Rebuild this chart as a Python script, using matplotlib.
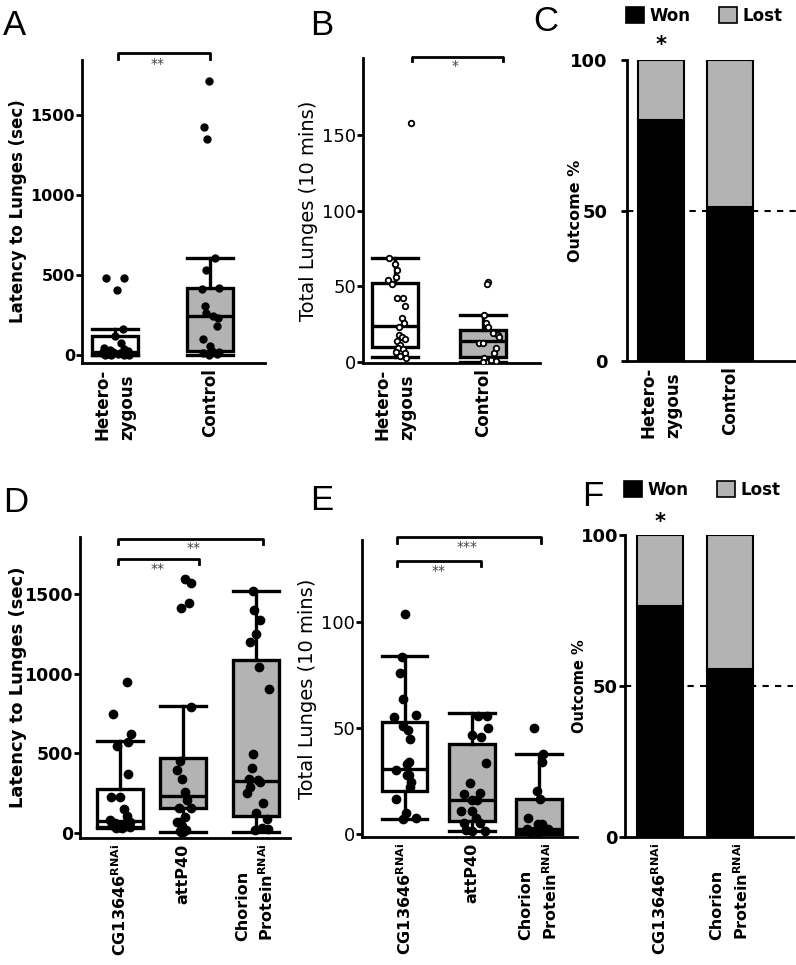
import matplotlib
matplotlib.use("Agg")
import matplotlib.pyplot as plt
from matplotlib.patches import Patch

plt.rcParams['font.family'] = 'DejaVu Sans'
plt.rcParams['mathtext.fontset'] = 'custom'
plt.rcParams['mathtext.bf'] = 'DejaVu Sans:bold'
plt.rcParams['mathtext.rm'] = 'DejaVu Sans'

W, H = 796, 965
GREY = '#b3b3b3'

# ---------------- data ----------------
# panel A: latency to lunges (sec)
a_labels = ['Hetero-\nzygous', 'Control']
a_het = [481, 483, 406, 164, 119, 77, 45, 35, 30, 25, 20, 15, 12, 10, 8, 5, 3, 2, 1, 0]
a_het_dx = [-0.09, 0.10, 0.02, 0.08, 0.0, 0.06, -0.12, 0.10, -0.05, 0.14, -0.02, 0.05,
            -0.14, 0.12, -0.08, 0.03, 0.09, -0.10, 0.15, -0.04]
a_ctl = [1712, 1423, 1348, 608, 531, 414, 420, 308, 260, 244, 231, 181, 102, 56, 15, 0, 6, 21, 27]
a_ctl_dx = [-0.01, -0.06, -0.03, 0.05, -0.04, -0.08, 0.10, -0.05, -0.04, 0.03, 0.08, 0.07,
            -0.07, 0.0, -0.07, -0.01, 0.07, 0.10, 0.02]
# box stats: whislo, q1, med, q3, whishi
a_box = [[0, 2, 20, 120, 160], [0, 25, 244, 421, 608]]

# panel B: total lunges (10 mins)
b_labels = ['Hetero-\nzygous', 'Control']
b_het = [157.7, 69, 64.5, 60.8, 56.4, 54.2, 51.3, 42, 42, 37.2, 28.9, 26, 23.3, 17.8,
         16.3, 14.1, 15, 11.2, 9, 8.4, 6.4, 5.7, 4, 2.4]
b_het_dx = [0.18, -0.07, 0.0, 0.02, 0.01, -0.08, -0.03, 0.02, 0.09, 0.11, 0.08, 0.10,
            0.05, 0.04, 0.08, 0.02, 0.11, 0.06, 0.03, 0.09, 0.01, 0.11, 0.06, 0.12]
b_ctl = [53, 51.5, 31, 26, 23.3, 19, 17.8, 16.3, 12.8, 12.5, 9, 6.2, 2.4, 0.2, 1.5, 0, 0.5]
b_ctl_dx = [0.06, 0.05, 0.01, 0.03, 0.06, 0.11, 0.17, 0.18, -0.04, 0.0, 0.15, 0.13,
            0.01, 0.03, 0.09, 0.0, 0.15]
b_box = [[3, 10, 24, 52, 68.5], [0, 3, 14, 21, 31]]

# panel C: outcome %
c_labels = ['Hetero-\nzygous', 'Control']
c_won = [80, 51]

# panel D: latency to lunges (sec)
d_labels = ['CG13646$^{\\mathbf{RNAi}}$', 'attP40', 'Chorion\nProtein$^{\\mathbf{RNAi}}$']
d_cg = [945, 744, 621, 569, 547, 370, 228, 228, 149, 107, 80, 70, 60, 55, 50, 45, 40, 35, 32, 30]
d_cg_dx = [0.11, -0.10, 0.16, 0.12, -0.04, 0.12, -0.13, 0.0, 0.06, 0.10, -0.15, 0.14,
           -0.08, 0.05, -0.12, 0.09, -0.02, 0.15, -0.06, 0.03]
d_att = [1597, 1569, 1446, 1413, 792, 453, 395, 337, 259, 207, 159, 155, 98, 71, 70, 44, 15, 8, 20, 5]
d_att_dx = [0.02, 0.12, 0.09, -0.04, 0.11, -0.05, -0.09, -0.02, 0.02, 0.05, -0.07, 0.12,
            0.02, -0.05, -0.09, -0.02, -0.05, 0.0, 0.04, -0.03]
d_cho = [1519, 1401, 1335, 1252, 1200, 1039, 903, 495, 406, 337, 332, 322, 287, 253, 186,
         124, 86, 29, 23, 19]
d_cho_dx = [-0.04, -0.02, 0.06, 0.01, -0.09, 0.05, 0.19, -0.04, -0.06, -0.10, 0.04, 0.07,
            -0.08, -0.13, 0.11, 0.01, 0.16, 0.09, 0.18, -0.01]
d_box = [[30, 40, 75, 274, 579], [8, 155, 232, 468, 798], [8, 107, 328, 1085, 1519]]

# panel E: total lunges (10 mins)
e_labels = d_labels
e_cg = [103.8, 83.3, 76, 63.5, 55.3, 56.1, 51, 49, 44.7, 34.1, 33, 30.2, 27.8, 24.7, 22.3,
        16.5, 10.1, 7.1, 7.4, 28]
e_cg_dx = [0.0, -0.04, -0.06, -0.02, -0.16, 0.17, -0.02, 0.05, 0.08, 0.06, 0.04, -0.12,
           0.07, 0.09, 0.08, -0.13, 0.02, -0.02, 0.17, 0.03]
e_att = [55.7, 55.7, 50.2, 46.5, 45.9, 33.3, 24.2, 18.9, 19.5, 16, 16, 11, 11, 7.4, 5.3,
         5.3, 1.9, 1.5, 1.6]
e_att_dx = [0.09, 0.23, 0.24, 0.0, 0.14, 0.21, -0.03, -0.11, 0.12, 0.0, 0.08, -0.16, 0.0,
            0.07, -0.11, 0.12, -0.08, 0.19, 0.01]
e_cho = [50.2, 37.7, 34.1, 20.3, 16.4, 7.7, 4.7, 4.7, 2.5, 1.5, 2, 0.8, 1, 2.2]
e_cho_dx = [-0.07, 0.06, 0.04, -0.03, 0.02, -0.17, -0.01, 0.04, -0.18, -0.08, 0.06,
            -0.13, -0.01, 0.14]
e_box = [[7, 20.4, 30.7, 53, 84], [1.6, 6.1, 16, 42.3, 57.2], [0, 1, 2.5, 16.4, 37.6]]

# panel F: outcome %
f_labels = ['CG13646$^{\\mathbf{RNAi}}$', 'Chorion\nProtein$^{\\mathbf{RNAi}}$']
f_won = [76.6, 55.6]


def px_axes(left, right, top, bottom):
    return fig.add_axes([left / W, 1 - bottom / H, (right - left) / W, (bottom - top) / H])


def style(ax, tick_size, bold=True, pad=1):
    for s in ['top', 'right']:
        ax.spines[s].set_visible(False)
    for s in ['left', 'bottom']:
        ax.spines[s].set_linewidth(2)
    ax.tick_params(axis='y', width=2, length=4, labelsize=tick_size, pad=pad)
    ax.tick_params(axis='x', length=0, pad=4)
    for t in ax.get_yticklabels():
        t.set_fontweight('bold' if bold else 'normal')


def xlabels(ax, pos, labels, size):
    ax.set_xticks(pos)
    ax.set_xticklabels(labels, rotation=90, fontsize=size, fontweight='bold', va='top',
                       ha='center', multialignment='left', linespacing=1.5)


def boxes(ax, stats, pos, width, groups, dxs, open_pts=False, ms=6):
    bs = []
    for st in stats:
        bs.append(dict(whislo=st[0], q1=st[1], med=st[2], q3=st[3], whishi=st[4], fliers=[]))
    lw = 2.4
    art = ax.bxp(bs, positions=pos, widths=width, capwidths=width, patch_artist=True,
                 showfliers=False,
                 boxprops=dict(linewidth=lw, edgecolor='black'),
                 medianprops=dict(linewidth=lw, color='black'),
                 whiskerprops=dict(linewidth=lw, color='black'),
                 capprops=dict(linewidth=lw, color='black'))
    for i, b in enumerate(art['boxes']):
        b.set_facecolor('white' if i == 0 else GREY)
    for p, vals, dx in zip(pos, groups, dxs):
        xs = [p + d for d in dx]
        if open_pts:
            ax.plot(xs, vals, 'o', ms=4, mfc='white', mec='black', mew=1.3, zorder=5)
        else:
            ax.plot(xs, vals, 'o', ms=ms, color='black', zorder=5)


def bracket(ax, x0, x1, y, drop, label, tx, ty, size=10):
    ax.plot([x0, x0, x1, x1], [y - drop, y, y, y - drop], color='black', lw=2, clip_on=False)
    ax.text(tx, ty, label, ha='center', va='center', fontsize=size, color='#444444',
            clip_on=False)


def stacked(ax, won, labels, width, size):
    pos = list(range(1, len(won) + 1))
    lost = [100 - w for w in won]
    ax.axhline(50, color='black', lw=1.5, ls=(0, (3, 3)), zorder=0)
    ax.bar(pos, won, width, color='black', edgecolor='black', lw=1.5, zorder=2)
    ax.bar(pos, lost, width, bottom=won, color=GREY, edgecolor='black', lw=1.5, zorder=2)
    xlabels(ax, pos, labels, size)
    ax.set_ylim(0, 100)
    ax.set_yticks([0, 50, 100])


def legend(ax, x, y):
    ax.legend(handles=[Patch(facecolor='black', edgecolor='black', lw=1.2, label='Won'),
                       Patch(facecolor=GREY, edgecolor='black', lw=1.2, label='Lost')],
              ncol=2, frameon=False, loc='center left', bbox_to_anchor=(x / W, 1 - y / H),
              bbox_transform=fig.transFigure, handlelength=1.1, handleheight=1.1,
              handletextpad=0.3, columnspacing=1.7, borderpad=0, borderaxespad=0,
              prop=dict(size=12, weight='bold'))


fig = plt.figure(figsize=(W / 100, H / 100), dpi=100)

# ---------------- A ----------------
ax = px_axes(82, 265, 60, 363)
boxes(ax, a_box, [1, 2], 0.48, [a_het, a_ctl], [a_het_dx, a_ctl_dx], ms=5)
ax.set_xlim(0.653, 2.58)
ax.set_ylim(-50, 1844)
ax.set_yticks([0, 500, 1000, 1500])
xlabels(ax, [1, 2], a_labels, 12)
ax.set_ylabel('Latency to Lunges (sec)', fontsize=12, fontweight='bold')
ax.yaxis.set_label_coords(-0.30, 0.5)
style(ax, 11.5)
bracket(ax, 1.03, 2.0, 1887, 35, '**', 1.45, 1822)

# ---------------- B ----------------
ax = px_axes(363, 540, 58, 363)
boxes(ax, b_box, [1, 2], 0.52, [b_het, b_ctl], [b_het_dx, b_ctl_dx], open_pts=True)
ax.set_xlim(0.636, 2.648)
ax.set_ylim(-0.66, 200.9)
ax.set_yticks([0, 50, 100, 150])
xlabels(ax, [1, 2], b_labels, 12)
ax.set_ylabel('Total Lunges (10 mins)', fontsize=14)
ax.yaxis.set_label_coords(-0.254, 0.5)
style(ax, 13, bold=False)
bracket(ax, 1.19, 2.23, 201.6, 3, '*', 1.68, 195.5)

# ---------------- C ----------------
ax = px_axes(627, 796, 60, 361)
stacked(ax, c_won, c_labels, 0.667, 12)
ax.set_xlim(0.507, 2.957)
ax.set_ylabel('Outcome %', fontsize=11.5, fontweight='bold')
ax.yaxis.set_label_coords(-0.262, 0.5)
style(ax, 13, pad=10)
ax.text(1, 105, '*', ha='center', va='center', fontsize=15, fontweight='bold', clip_on=False)
legend(ax, 626, 16)

# ---------------- D ----------------
ax = px_axes(80, 290, 537, 838)
boxes(ax, d_box, [1, 1.933, 3], 0.68, [d_cg, d_att, d_cho], [d_cg_dx, d_att_dx, d_cho_dx], ms=6)
ax.set_xlim(0.41, 3.506)
ax.set_ylim(-31.4, 1858)
ax.set_yticks([0, 500, 1000, 1500])
xlabels(ax, [1, 1.933, 3], d_labels, 11.5)
ax.set_ylabel('Latency to Lunges (sec)', fontsize=13, fontweight='bold')
ax.yaxis.set_label_coords(-0.252, 0.5)
style(ax, 12.5)
bracket(ax, 0.97, 3.11, 1845, 32, '**', 2.08, 1790)
bracket(ax, 0.97, 2.16, 1720, 32, '**', 1.56, 1658)

# ---------------- E ----------------
ax = px_axes(362, 577, 540, 837)
boxes(ax, e_box, [1, 2, 3], 0.68, [e_cg, e_att, e_cho], [e_cg_dx, e_att_dx, e_cho_dx], ms=6)
ax.set_xlim(0.368, 3.565)
ax.set_ylim(-1.4, 138.7)
ax.set_yticks([0, 50, 100])
xlabels(ax, [1, 2, 3], e_labels, 11.5)
ax.set_ylabel('Total Lunges (10 mins)', fontsize=14)
ax.yaxis.set_label_coords(-0.209, 0.5)
style(ax, 13, bold=False)
bracket(ax, 0.89, 3.03, 140, 2.5, '***', 1.93, 135.5)
bracket(ax, 0.89, 2.14, 129, 2.5, '**', 1.51, 124)

# ---------------- F ----------------
ax = px_axes(625, 793, 535, 837)
stacked(ax, f_won, f_labels, 0.657, 11.5)
ax.set_xlim(0.5, 2.9)
ax.set_ylabel('Outcome %', fontsize=10.5, fontweight='bold')
ax.yaxis.set_label_coords(-0.226, 0.5)
style(ax, 13, pad=1)
ax.text(1, 104.3, '*', ha='center', va='center', fontsize=15, fontweight='bold', clip_on=False)
legend(ax, 624, 490)

# panel letters
for letter, x, y in [('A', 3, 35), ('B', 310, 35), ('C', 533, 31),
                     ('D', 3, 512), ('E', 310, 510), ('F', 582, 506)]:
    fig.text(x / W, 1 - y / H, letter, fontsize=25, family='Liberation Sans',
             ha='left', va='baseline')

fig.savefig('out.png', dpi=100)
